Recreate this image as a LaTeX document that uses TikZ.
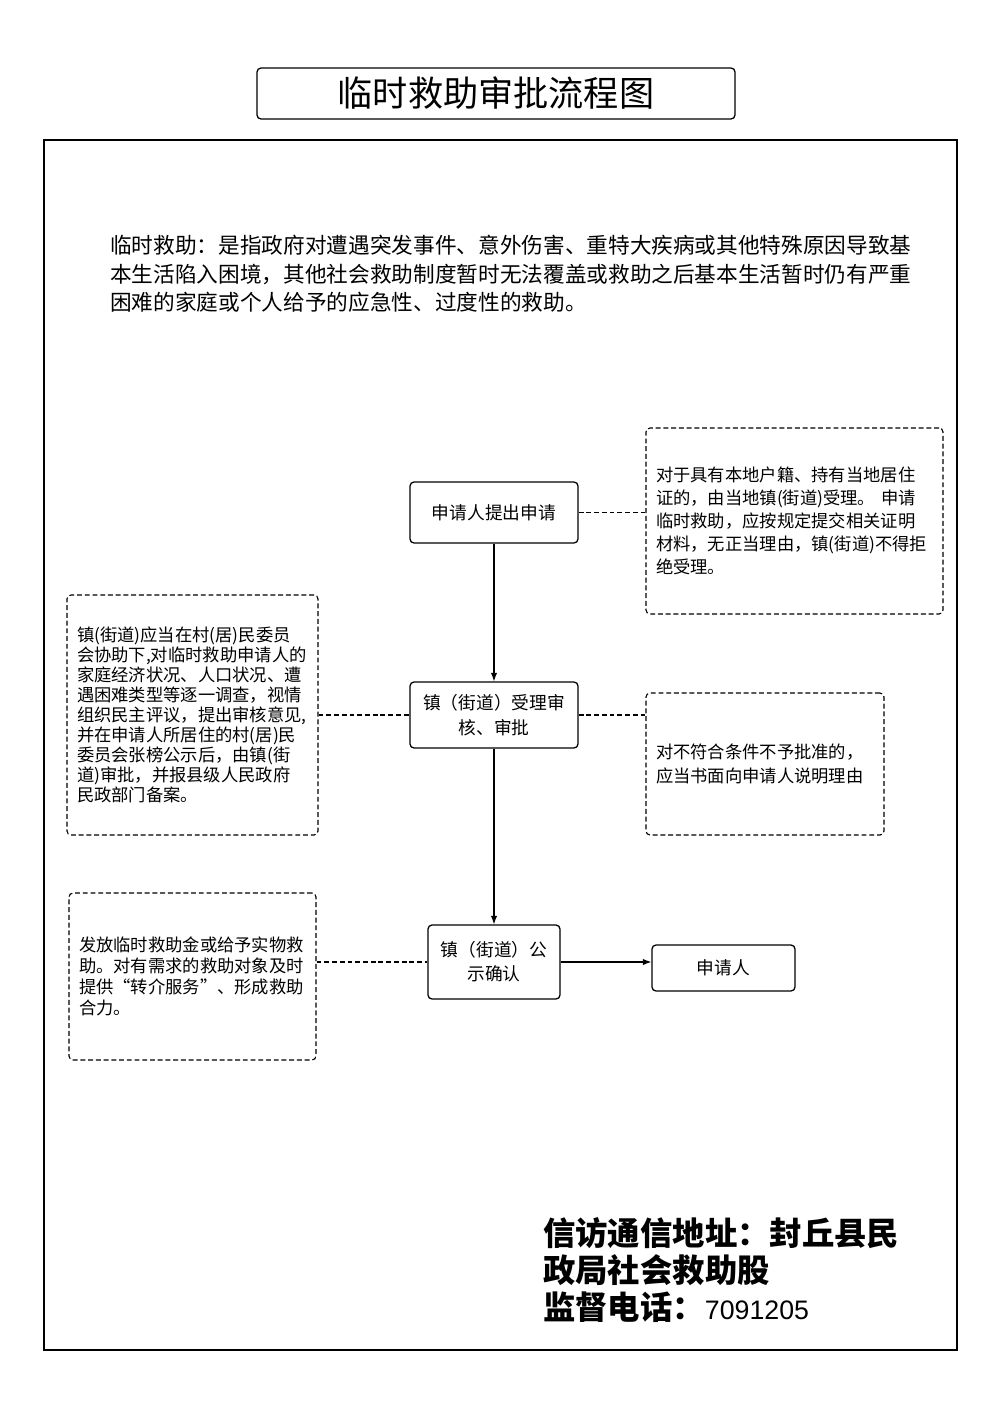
\documentclass[tikz,border=0pt]{standalone}
\usepackage{fontspec}
\newfontfamily\cjk{Noto Sans CJK SC}
\newfontfamily\digits{Liberation Sans}
\usetikzlibrary{arrows.meta}

\begin{document}
\begin{tikzpicture}[x=0.025cm,y=-0.025cm,font=\cjk]
\def\pxl{0.025cm}; %one pixel of the page
\def\lw{0.9pt}; %line width of the boxes
\def\dashlw{0.8pt}; %line width of the dashed lines

\tikzstyle{stepbox} = [rectangle, draw, line width=\lw, rounded corners=0.1cm, align=center, inner sep=0mm, font=\cjk\fontsize{12.6}{17.5}\selectfont]
\tikzstyle{notebox} = [rectangle, draw, line width=\dashlw, dash pattern=on 3.5pt off 2pt, rounded corners=0.1cm, align=left, inner xsep=10*\pxl, font=\cjk\fontsize{12.3}{16.4}\selectfont]
\tikzstyle{link} = [line width=\dashlw, -{Latex[length=6pt,width=4.5pt]}]
\tikzstyle{dashlink} = [line width=\dashlw, dash pattern=on 3.5pt off 2pt]

\useasboundingbox (0,0) rectangle (1000,1414);

%title and frame
\node[stepbox, minimum width=478*\pxl, minimum height=51*\pxl, font=\cjk\fontsize{25}{30}\selectfont] (title) at (496,93.5) {临时救助审批流程图};
\draw[line width=\lw] (44,140) rectangle (957,1350);

\node[anchor=west, inner sep=0mm, align=left, font=\cjk\fontsize{15.4}{20.3}\selectfont] (intro) at (110,274) {临时救助：是指政府对遭遇突发事件、意外伤害、重特大疾病或其他特殊原因导致基\\本生活陷入困境，其他社会救助制度暂时无法覆盖或救助之后基本生活暂时仍有严重\\困难的家庭或个人给予的应急性、过度性的救助。};

%steps
\node[stepbox, minimum width=168*\pxl, minimum height=61*\pxl] (apply) at (494,512.5) {申请人提出申请};
\node[stepbox, minimum width=168*\pxl, minimum height=66*\pxl, text width=150*\pxl, font=\cjk\fontsize{12.6}{17.8}\selectfont] (review) at (494,715) {镇（街道）受理审\\核、审批};
\node[stepbox, minimum width=132*\pxl, minimum height=74*\pxl, text width=118*\pxl, font=\cjk\fontsize{12.6}{17.2}\selectfont] (notice) at (494,962) {镇（街道）公\\示确认};
\node[stepbox, minimum width=143*\pxl, minimum height=46*\pxl] (person) at (723.5,968) {申请人};

%notes
\node[notebox, minimum width=297*\pxl, minimum height=186*\pxl, text width=277*\pxl] (noteA) at (794.5,521) {对于具有本地户籍、持有当地居住\\证的，由当地镇(街道)受理。 申请\\临时救助，应按规定提交相关证明\\材料，无正当理由，镇(街道)不得拒\\绝受理。};
\node[notebox, minimum width=251*\pxl, minimum height=240*\pxl, text width=231*\pxl, font=\cjk\fontsize{12.3}{14.2}\selectfont] (noteB) at (192.5,715) {镇(街道)应当在村(居)民委员\\会协助下,对临时救助申请人的\\家庭经济状况、人口状况、遭\\遇困难类型等逐一调查，视情\\组织民主评议，提出审核意见,\\并在申请人所居住的村(居)民\\委员会张榜公示后，由镇(街\\道)审批，并报县级人民政府\\民政部门备案。};
\node[notebox, minimum width=238*\pxl, minimum height=142*\pxl, text width=218*\pxl, font=\cjk\fontsize{12.3}{17}\selectfont] (noteC) at (765,764) {对不符合条件不予批准的，\\应当书面向申请人说明理由};
\node[notebox, minimum width=247*\pxl, minimum height=167*\pxl, text width=227*\pxl, font=\cjk\fontsize{12.3}{14.9}\selectfont] (noteD) at (192.5,976.5) {发放临时救助金或给予实物救\\助。对有需求的救助对象及时\\提供“转介服务”、形成救助\\合力。};

%connectors
\draw[link] (apply.south) -- (review.north);
\draw[link] (review.south) -- (notice.north);
\draw[link] (notice.east) -- (notice.east -| person.west);

\draw[dashlink] (apply.east) -- (apply.east -| noteA.west);
\draw[dashlink] (noteB.east) -- (review.west);
\draw[dashlink] (review.east) -- (review.east -| noteC.west);
\draw[dashlink] (noteD.east |- notice.west) -- (notice.west);

%address
\node[anchor=west, inner sep=0mm, align=left, font=\cjk\bfseries\fontsize{23}{26.3}\selectfont] (addr) at (543,1270) {信访通信地址：封丘县民\\政局社会救助股\\监督电话：{\digits\mdseries\fontsize{19}{26.3}\selectfont 7091205}};

\end{tikzpicture}
\end{document}
